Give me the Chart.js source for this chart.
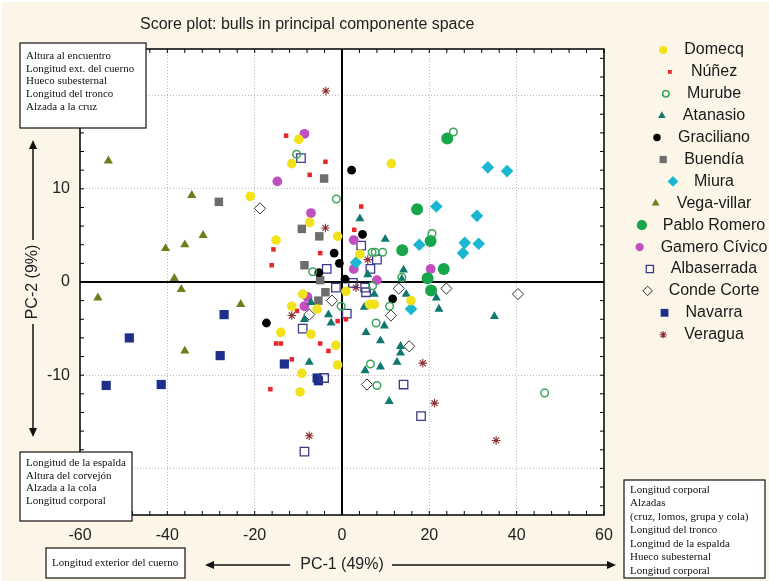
<!DOCTYPE html>
<html>
<head>
<meta charset="utf-8">
<script src="https://cdn.jsdelivr.net/npm/chart.js@4.4.1/dist/chart.umd.min.js"></script>
<style>
  html, body { margin: 0; padding: 0; background: #fcf6e8; }
  #wrap { width: 769px; height: 581px; }
</style>
</head>
<body>
<div id="wrap"><canvas id="chart" width="769" height="581"></canvas></div>
<script>
const FONT = '"Liberation Sans", Arial, sans-serif';
const SERIF = '"Liberation Serif", "Times New Roman", serif';

// categories
const breeds = ['Domecq', 'Núñez', 'Murube', 'Atanasio', 'Graciliano', 'Buendía', 'Miura',
  'Vega-villar', 'Pablo Romero', 'Gamero Cívico', 'Albaserrada', 'Conde Corte', 'Navarra', 'Veragua'];

// scores [PC-1, PC-2]
const domecq = [[-9.9, 15.3], [-11.5, 12.7], [11.3, 12.7], [-21.0, 9.2], [-7.4, 6.4], [-15.1, 4.5],
  [-1.0, 4.9], [4.1, 3.0], [-9.0, -1.3], [-11.5, -2.6], [-5.7, -2.9], [0.9, -1.0], [15.8, -2.0],
  [6.3, -2.4], [7.4, -2.4], [-14.0, -5.4], [-7.1, -5.6], [-1.4, -6.8], [-1.0, -8.9], [-9.2, -9.8], [-9.6, -11.8]];
const nunez = [[-12.8, 15.7], [-3.8, 12.9], [-7.4, 11.5], [4.4, 8.1], [2.8, 5.6], [-15.7, 3.5], [-5.0, 3.1],
  [-16.1, 1.8], [-10.3, -3.1], [-1.0, -4.2], [0.9, -4.0], [-15.1, -6.6], [-14.0, -6.6], [-5.0, -6.6],
  [-3.1, -7.4], [-11.5, -8.3], [-16.4, -11.5]];
const murube = [[-10.4, 13.7], [-1.3, 8.9], [25.5, 16.1], [-6.7, 1.1], [-0.2, -2.6], [6.9, 3.2], [7.6, 3.2],
  [9.3, 3.2], [20.6, 5.2], [7.0, -0.4], [13.7, 0.5], [10.9, -2.6], [7.8, -4.4], [6.5, -8.8], [8.0, -11.1], [46.4, -11.9]];
const atanasio = [[4.1, 6.8], [9.9, 4.6], [5.9, 0.8], [14.1, 1.3], [13.7, 0.3], [7.4, -1.3], [14.7, -1.3],
  [5.1, -2.7], [22.2, -2.9], [21.6, -1.7], [9.7, -4.7], [5.5, -5.4], [-7.1, -2.2], [-3.1, -3.5], [-8.6, -4.0],
  [-2.5, -4.4], [-7.5, -8.6], [8.8, -6.3], [13.4, -6.9], [13.4, -7.6], [12.6, -8.6], [8.8, -9.1], [5.3, -9.5],
  [10.8, -12.8], [34.9, -3.7]];
const graciliano = [[2.2, 12.0], [4.7, 5.1], [-1.8, 3.1], [-0.6, 2.0], [-5.3, 1.0], [0.7, 0.3], [11.6, -1.8], [-17.3, -4.4]];
const buendia = [[-4.1, 11.1], [-28.2, 8.6], [-9.2, 5.7], [-5.2, 4.9], [-8.6, 1.8], [-5.0, 0.2], [-3.8, -1.1], [-5.4, -2.0]];
const miura = [[33.4, 12.3], [37.8, 11.9], [21.6, 8.1], [30.9, 7.1], [17.7, 4.0], [28.1, 4.2], [31.3, 4.1],
  [27.7, 3.1], [3.2, 2.1], [15.8, -2.9]];
const vegaVillar = [[-53.5, 13.0], [-34.4, 9.3], [-31.8, 5.0], [-36.0, 4.0], [-40.4, 3.6], [-38.4, 0.4],
  [-36.8, -0.8], [-55.9, -1.7], [-23.2, -2.4], [-36.0, -7.4]];
const pabloRomero = [[24.1, 15.4], [17.2, 7.8], [13.8, 3.4], [20.3, 4.4], [23.3, 1.4], [19.6, 0.4], [20.4, -0.9]];
const gamero = [[-8.6, 15.9], [-14.8, 10.8], [-7.1, 7.4], [2.7, 4.5], [2.7, 1.4], [8.0, 0.2], [20.3, 1.4],
  [-7.9, -1.6], [-8.6, -2.6]];
const albaserrada = [[-9.4, 13.3], [-3.5, 1.4], [4.4, 3.9], [8.0, 2.4], [6.5, 1.4], [2.5, -0.1], [5.3, -0.6],
  [5.5, -1.1], [-1.4, -0.6], [1.1, -3.4], [-9.0, -5.0], [-4.1, -10.3], [14.1, -11.0], [18.1, -14.4], [-8.6, -18.2]];
const condeCorte = [[-18.8, 7.9], [-2.3, -2.0], [-7.5, -3.5], [13.0, -0.7], [11.2, -3.6], [23.9, -0.7],
  [40.3, -1.3], [15.4, -6.9], [5.7, -11.0]];
const navarra = [[-27.0, -3.5], [-48.7, -6.0], [-27.9, -7.9], [-54.0, -11.1], [-41.4, -11.0], [-13.2, -8.8],
  [-5.7, -10.3], [-5.4, -10.6]];
const veragua = [[-3.7, 20.5], [-3.8, 5.8], [5.9, 2.4], [3.2, -0.6], [-11.5, -3.6], [18.5, -8.7], [21.2, -13.0],
  [-7.5, -16.5], [35.3, -17.0]];

const series = [domecq, nunez, murube, atanasio, graciliano, buendia, miura,
  vegaVillar, pabloRomero, gamero, albaserrada, condeCorte, navarra, veragua];

// tick labels
const xTicks = [-60, -40, -20, 0, 20, 40, 60];
const yTicks = [-20, -10, 0, 10, 20];

// loading boxes
const loadTopLeft = ['Altura al encuentro', 'Longitud ext. del cuerno', 'Hueco subesternal', 'Longitud del tronco', 'Alzada a la cruz'];
const loadBottomLeft = ['Longitud de la espalda', 'Altura del corvejón', 'Alzada a la cola', 'Longitud corporal'];
const loadLeftX = ['Longitud exterior del cuerno'];
const loadRightX = ['Longitud corporal', 'Alzadas', '(cruz, lomos, grupa y cola)', 'Longitud del tronco',
  'Longitud de la espalda', 'Hueco subesternal', 'Longitud corporal'];

// marker look per breed
const markers = [
  {shape: 'circle', r: 4.8, fill: '#f1e21c', stroke: '#f1e21c', bw: 0},
  {shape: 'rect', r: 3.2, fill: '#e8262a', stroke: '#e8262a', bw: 0},
  {shape: 'circle', r: 3.8, fill: 'rgba(255,255,255,0)', stroke: '#3aa55a', bw: 1.5},
  {shape: 'triangle', r: 5.2, fill: '#10796f', stroke: '#10796f', bw: 0},
  {shape: 'circle', r: 4.4, fill: '#000000', stroke: '#000000', bw: 0},
  {shape: 'rect', r: 6, fill: '#6d6d6d', stroke: '#6d6d6d', bw: 0},
  {shape: 'rectRot', r: 6.3, fill: '#1bb6d0', stroke: '#1bb6d0', bw: 0},
  {shape: 'triangle', r: 5.3, fill: '#6f7d1d', stroke: '#6f7d1d', bw: 0},
  {shape: 'circle', r: 6, fill: '#18a64a', stroke: '#18a64a', bw: 0},
  {shape: 'circle', r: 4.9, fill: '#c24fc0', stroke: '#c24fc0', bw: 0},
  {shape: 'rect', r: 6, fill: 'rgba(255,255,255,0)', stroke: '#3b3b8c', bw: 1.3},
  {shape: 'rectRot', r: 5.6, fill: 'rgba(255,255,255,0)', stroke: '#333333', bw: 1},
  {shape: 'rect', r: 6.5, fill: '#1f2f8c', stroke: '#1f2f8c', bw: 0},
  {shape: 'star', r: 4.3, fill: '#8b3030', stroke: '#8b3030', bw: 1.1}
];

function line(ctx, x1, y1, x2, y2) {
  ctx.beginPath();
  ctx.moveTo(x1, y1);
  ctx.lineTo(x2, y2);
  ctx.stroke();
}

// line from (x1,y1) with the head at (x2,y2)
function arrow(ctx, x1, y1, x2, y2) {
  const ang = Math.atan2(y2 - y1, x2 - x1);
  const len = 9, half = 4;
  ctx.lineWidth = 1.5;
  line(ctx, x1, y1, x2 - Math.cos(ang) * len, y2 - Math.sin(ang) * len);
  ctx.beginPath();
  ctx.moveTo(x2, y2);
  ctx.lineTo(x2 - Math.cos(ang) * len - Math.sin(ang) * half, y2 - Math.sin(ang) * len + Math.cos(ang) * half);
  ctx.lineTo(x2 - Math.cos(ang) * len + Math.sin(ang) * half, y2 - Math.sin(ang) * len - Math.cos(ang) * half);
  ctx.closePath();
  ctx.fill();
}

function textBox(ctx, lines, x, y, w, h, firstY, step) {
  ctx.fillStyle = '#ffffff';
  ctx.fillRect(x, y, w, h);
  ctx.strokeStyle = '#111';
  ctx.lineWidth = 1.2;
  ctx.strokeRect(x, y, w, h);
  ctx.fillStyle = '#111';
  ctx.font = '11px ' + SERIF;
  ctx.textAlign = 'left';
  ctx.textBaseline = 'middle';
  lines.forEach((t, i) => ctx.fillText(t, x + 6, firstY + i * step));
}

const decor = {
  id: 'decor',
  beforeDraw(chart) {
    const {ctx, chartArea: a} = chart;
    ctx.save();
    ctx.fillStyle = '#ffffff';
    ctx.fillRect(0, 0, chart.width, chart.height);
    ctx.fillStyle = '#fcf6e8';
    ctx.fillRect(2, 2, chart.width - 2, chart.height - 2);
    ctx.fillStyle = '#ffffff';
    ctx.fillRect(a.left, a.top, a.right - a.left, a.bottom - a.top);
    ctx.restore();
  },
  beforeDatasetsDraw(chart) {
    const {ctx, chartArea: a, scales: {x, y}} = chart;
    ctx.save();
    ctx.strokeStyle = '#000';
    ctx.lineWidth = 2;
    const x0 = x.getPixelForValue(0), y0 = y.getPixelForValue(0);
    line(ctx, x0, a.top, x0, a.bottom);
    line(ctx, a.left, y0, a.right, y0);
    ctx.lineWidth = 1.5;
    ctx.strokeRect(a.left, a.top, a.right - a.left, a.bottom - a.top);
    // minor ticks, five per major step
    ctx.lineWidth = 1;
    for (let v = x.min; v <= x.max; v += 4) {
      const px = x.getPixelForValue(v);
      line(ctx, px, a.top, px, a.top + 4);
      line(ctx, px, a.bottom, px, a.bottom - 4);
    }
    for (let v = Math.ceil(y.min / 2) * 2; v <= y.max; v += 2) {
      const py = y.getPixelForValue(v);
      line(ctx, a.left, py, a.left + 4, py);
      line(ctx, a.right, py, a.right - 4, py);
    }
    ctx.restore();
  },
  afterDraw(chart) {
    const {ctx, chartArea: a} = chart;
    ctx.save();

    // title
    ctx.fillStyle = '#222';
    ctx.font = '16px ' + FONT;
    ctx.textAlign = 'left';
    ctx.textBaseline = 'middle';
    ctx.fillText('Score plot: bulls in principal componente space', 140, 25);

    // loading boxes
    textBox(ctx, loadTopLeft, 20, 43, 126, 85, 56, 12.7);
    textBox(ctx, loadBottomLeft, 20, 452, 112, 69, 463, 12.8);
    textBox(ctx, loadLeftX, 46, 548, 139, 30, 563, 13);
    textBox(ctx, loadRightX, 624, 480, 141, 98, 490, 13.5);

    // axis titles with arrows
    const cx = (a.left + a.right) / 2, cy = (a.top + a.bottom) / 2;
    ctx.fillStyle = '#222';
    ctx.strokeStyle = '#111';
    ctx.font = '16px ' + FONT;
    ctx.textAlign = 'center';
    ctx.textBaseline = 'middle';
    ctx.fillText('PC-1 (49%)', cx, 565);
    ctx.fillStyle = '#111';
    arrow(ctx, 290, 565, 205, 565);
    arrow(ctx, 392, 565, 616, 565);

    ctx.save();
    ctx.translate(33, cy);
    ctx.rotate(-Math.PI / 2);
    ctx.fillStyle = '#222';
    ctx.fillText('PC-2 (9%)', 0, 0);
    ctx.restore();
    ctx.fillStyle = '#111';
    arrow(ctx, 33, cy - 42, 33, 140);
    arrow(ctx, 33, cy + 42, 33, 437);

    // legend
    const drawPoint = Chart.helpers && Chart.helpers.drawPoint;
    chart.data.datasets.forEach((ds, i) => {
      const rowY = 50 + i * 21.9;
      ctx.font = '16px ' + FONT;
      const w = ctx.measureText(ds.label).width;
      const left = 714 - w / 2;
      ctx.fillStyle = '#1a1a1a';
      ctx.textAlign = 'left';
      ctx.textBaseline = 'middle';
      ctx.fillText(ds.label, left, rowY);
      ctx.fillStyle = ds.backgroundColor;
      ctx.strokeStyle = ds.borderColor;
      ctx.lineWidth = ds.borderWidth;
      const opts = {pointStyle: ds.pointStyle, radius: ds.pointRadius * 0.85, rotation: 0, borderWidth: ds.borderWidth};
      if (drawPoint) {
        drawPoint(ctx, opts, left - 21, rowY);
      } else {
        ctx.beginPath();
        ctx.arc(left - 21, rowY, opts.radius, 0, Math.PI * 2);
        ctx.fill();
      }
    });
    ctx.restore();
  }
};

const datasets = breeds.map((name, i) => ({
  label: name,
  data: series[i].map(([x, y]) => ({x, y})),
  pointStyle: markers[i].shape,
  pointRadius: markers[i].r,
  backgroundColor: markers[i].fill,
  borderColor: markers[i].stroke,
  borderWidth: markers[i].bw,
  showLine: false
}));

new Chart(document.getElementById('chart').getContext('2d'), {
  type: 'scatter',
  data: {datasets},
  options: {
    responsive: false,
    animation: false,
    events: [],
    layout: {padding: {left: 0, right: 165, top: 49, bottom: 0}},
    plugins: {legend: {display: false}, tooltip: {enabled: false}, title: {display: false}},
    scales: {
      x: {
        type: 'linear',
        min: xTicks[0],
        max: xTicks[xTicks.length - 1],
        afterFit: s => { s.height = 66; },
        afterBuildTicks: s => { s.ticks = xTicks.map(v => ({value: v})); },
        ticks: {color: '#222', padding: 11, maxRotation: 0, autoSkip: false, font: {family: FONT, size: 16}},
        grid: {
          drawTicks: false,
          lineWidth: 1,
          color: c => (c.tick && (c.tick.value === 0 || Math.abs(c.tick.value) === 60)) ? 'rgba(0,0,0,0)' : '#b9b9b9'
        },
        border: {display: false, dash: [1, 2]}
      },
      y: {
        type: 'linear',
        min: -25,
        max: 25,
        afterFit: s => { s.width = 80; },
        afterBuildTicks: s => { s.ticks = yTicks.map(v => ({value: v})); },
        ticks: {color: '#222', padding: 10, autoSkip: false, font: {family: FONT, size: 16}},
        grid: {
          drawTicks: false,
          lineWidth: 1,
          color: c => (c.tick && c.tick.value === 0) ? 'rgba(0,0,0,0)' : '#b9b9b9'
        },
        border: {display: false, dash: [1, 2]}
      }
    }
  },
  plugins: [decor]
});
</script>
</body>
</html>
